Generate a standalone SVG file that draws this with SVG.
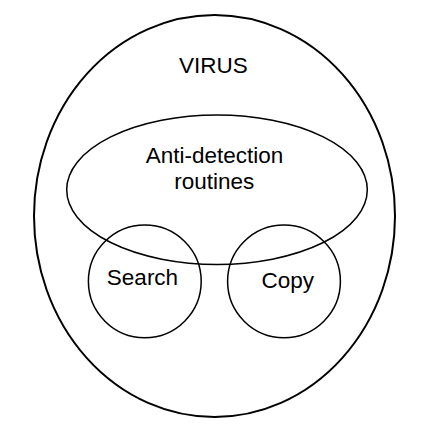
<svg xmlns="http://www.w3.org/2000/svg" width="429" height="440" viewBox="0 0 429 440">
<style>
.shape{fill:none;stroke:#000;stroke-width:1.5}
.outer{fill:none;stroke:#000;stroke-width:2}
.lbl{font-family:"Liberation Sans",Arial,sans-serif;font-size:22.5px;fill:#000;text-anchor:middle}
</style>
<rect width="429" height="440" fill="#fff"/>
<g id="virus">
<ellipse class="outer" cx="214.5" cy="216" rx="180.5" ry="201"/>
<text class="lbl" x="213.3" y="73.3">VIRUS</text>
</g>
<g id="anti-detection">
<ellipse class="shape" cx="217" cy="189.7" rx="150.3" ry="74.7"/>
<text class="lbl" x="214.5" y="163.3">Anti-detection</text>
<text class="lbl" x="214.3" y="189">routines</text>
</g>
<g id="search">
<circle class="shape" cx="144.8" cy="281.3" r="56.4"/>
<text class="lbl" x="142.5" y="285">Search</text>
</g>
<g id="copy">
<circle class="shape" cx="284" cy="281.3" r="56.4"/>
<text class="lbl" x="287.8" y="287.5">Copy</text>
</g>
<g id="connectors"></g>
</svg>
